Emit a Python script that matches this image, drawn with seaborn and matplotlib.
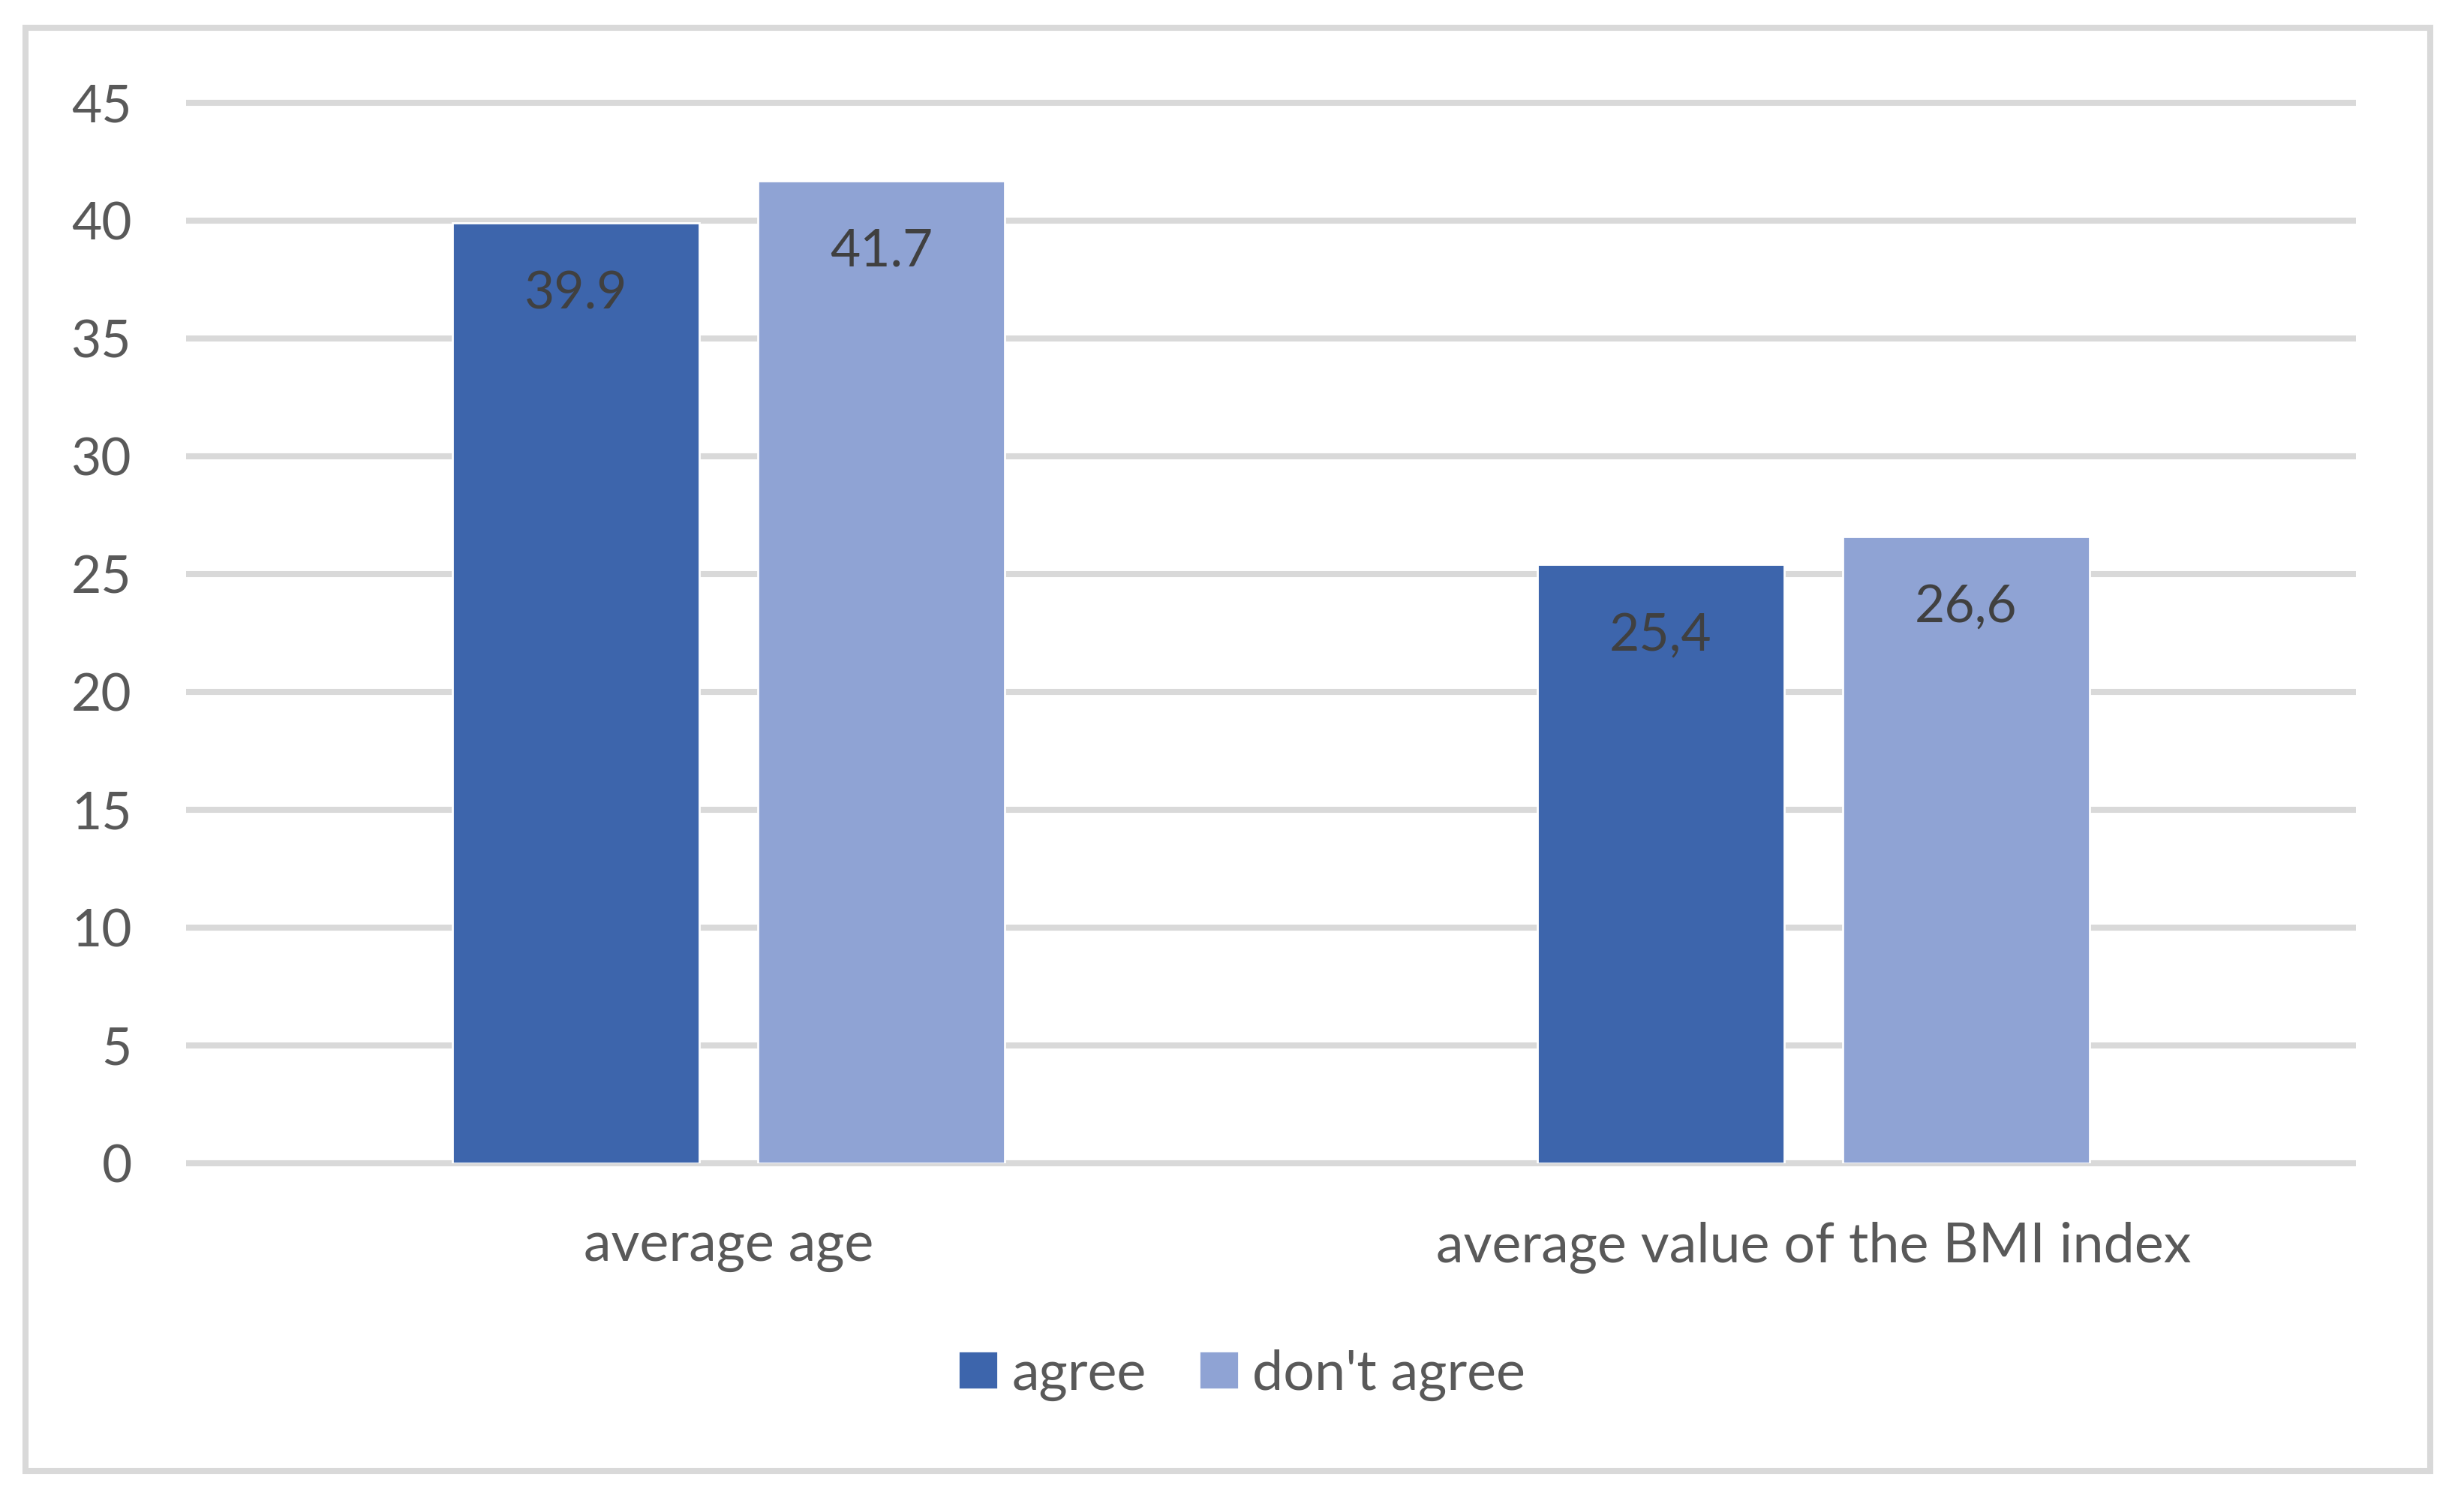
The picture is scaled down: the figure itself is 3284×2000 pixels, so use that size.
import matplotlib
matplotlib.use("Agg")
import matplotlib.pyplot as plt
import seaborn as sns
import pandas as pd
from matplotlib.patches import Rectangle

# ---- data ----
categories = ["average age", "average value of the BMI index"]
series_names = ["agree", "don't agree"]
agree_values = [39.9, 25.4]
dont_agree_values = [41.7, 26.6]
agree_labels = ["39.9", "25,4"]
dont_agree_labels = ["41.7", "26,6"]
y_ticks = [0, 5, 10, 15, 20, 25, 30, 35, 40, 45]

colors = ["#3D65AC", "#8FA3D4"]
grid_color = "#D9D9D9"
tick_color = "#595959"
label_color = "#404040"

df = pd.DataFrame({
    "category": categories * 2,
    "group": [series_names[0]] * len(categories) + [series_names[1]] * len(categories),
    "value": agree_values + dont_agree_values,
})

sns.set_theme(style="white")
plt.rcParams["font.family"] = ["Lato", "DejaVu Sans"]

W, H, DPI = 3284, 2000, 200
fig = plt.figure(figsize=(W / DPI, H / DPI), dpi=DPI)
ax = fig.add_axes([248 / W, 0.225, (3140 - 248) / W, 0.9362 - 0.225])

sns.barplot(data=df, x="category", y="value", hue="group",
            order=categories, hue_order=series_names, palette=colors,
            saturation=1, width=0.563, gap=0.192, ax=ax, errorbar=None)

ax.set_xlim(-0.5, 1.5)
ax.set_ylim(0, 45.3)
ax.set_yticks(y_ticks)
ax.set_xlabel("")
ax.set_ylabel("")
for s in ax.spines.values():
    s.set_visible(False)
ax.set_axisbelow(True)
ax.yaxis.grid(True, color=grid_color, linewidth=2.9)
for gl in ax.yaxis.get_gridlines():
    gl.set_clip_on(False)
    gl.set_solid_capstyle("butt")
ax.xaxis.grid(False)
ax.tick_params(axis="y", length=0, pad=26, labelsize=25, labelcolor=tick_color)
ax.tick_params(axis="x", length=0, pad=28, labelsize=26.5, labelcolor=tick_color)

# data labels
all_labels = [agree_labels, dont_agree_labels]
for cont, labs in zip(ax.containers, all_labels):
    for rect, lab in zip(cont, labs):
        ax.annotate(lab, xy=(rect.get_x() + rect.get_width() / 2, rect.get_height()),
                    xytext=(0, -34), textcoords="offset points",
                    ha="center", va="center", fontsize=25, color=label_color)

# legend
leg = ax.get_legend()
if leg is not None:
    leg.remove()
handles = [cont.patches[0] for cont in ax.containers]
fig.legend(handles, series_names, loc="center", bbox_to_anchor=(0.504, 0.084),
           ncol=2, frameon=False, fontsize=26.5, labelcolor=tick_color,
           handlelength=0.72, handleheight=0.7, handletextpad=0.25,
           columnspacing=0.95)

# outer frame
fig.patches.append(Rectangle((34 / W, 1 - 1960 / H), (3239 - 34) / W, (1960 - 37) / H,
                             transform=fig.transFigure, fill=False,
                             edgecolor=grid_color, linewidth=2.9))

fig.savefig("out.png", dpi=DPI, facecolor="white")
